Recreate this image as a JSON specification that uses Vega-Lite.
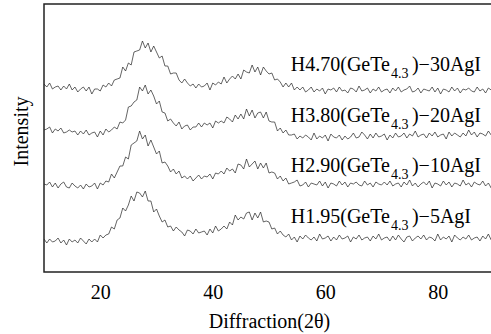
{
  "$schema": "https://vega.github.io/schema/vega-lite/v6.json",
  "width": 450,
  "height": 268,
  "autosize": {"type": "none"},
  "padding": {"left": 44, "top": 4, "right": 0, "bottom": 62},
  "config": {
    "font": "Liberation Serif",
    "view": {"stroke": "#222", "strokeWidth": 1.5},
    "axis": {"grid": false, "domain": false, "labelColor": "#000", "titleColor": "#000", "titleFontWeight": "normal", "labelFontSize": 20, "titleFontSize": 20}
  },
  "datasets": {
    "xrd": [
      {"x":10,"a":188,"b":142,"c":88,"d":33},{"x":10.5,"a":185,"b":143,"c":87,"d":29},{"x":11,"a":189,"b":145,"c":90,"d":33},{"x":11.5,"a":183,"b":139,"c":85,"d":30},
      {"x":12,"a":185,"b":143,"c":89,"d":31},{"x":12.5,"a":186,"b":141,"c":84,"d":34},{"x":13,"a":182,"b":144,"c":88,"d":29},{"x":13.5,"a":186,"b":139,"c":90,"d":32},
      {"x":14,"a":183,"b":140,"c":85,"d":27},{"x":14.5,"a":188,"b":142,"c":84,"d":33},{"x":15,"a":182,"b":140,"c":89,"d":30},{"x":15.5,"a":185,"b":141,"c":86,"d":32},
      {"x":16,"a":180,"b":137,"c":84,"d":29},{"x":16.5,"a":183,"b":141,"c":87,"d":34},{"x":17,"a":185,"b":138,"c":83,"d":31},{"x":17.5,"a":181,"b":142,"c":88,"d":28},
      {"x":18,"a":185,"b":137,"c":85,"d":33},{"x":18.5,"a":178,"b":139,"c":86,"d":30},{"x":19,"a":183,"b":140,"c":89,"d":33},{"x":19.5,"a":183,"b":135,"c":83,"d":30},
      {"x":20,"a":181,"b":141,"c":89,"d":37},{"x":20.5,"a":187,"b":137,"c":87,"d":34},{"x":21,"a":185,"b":143,"c":91,"d":37},{"x":21.5,"a":189,"b":140,"c":90,"d":38},
      {"x":22,"a":186,"b":142,"c":98,"d":45},{"x":22.5,"a":192,"b":145,"c":94,"d":43},{"x":23,"a":193,"b":143,"c":100,"d":52},{"x":23.5,"a":194,"b":150,"c":106,"d":54},
      {"x":24,"a":205,"b":149,"c":106,"d":64},{"x":24.5,"a":201,"b":152,"c":115,"d":61},{"x":25,"a":209,"b":165,"c":113,"d":67},{"x":25.5,"a":207,"b":166,"c":127,"d":76},
      {"x":26,"a":220,"b":170,"c":129,"d":71},{"x":26.5,"a":221,"b":172,"c":131,"d":80},{"x":27,"a":222,"b":185,"c":141,"d":79},{"x":27.5,"a":231,"b":181,"c":133,"d":75},
      {"x":28,"a":224,"b":187,"c":137,"d":81},{"x":28.5,"a":229,"b":178,"c":126,"d":71},{"x":29,"a":220,"b":182,"c":132,"d":71},{"x":29.5,"a":226,"b":176,"c":125,"d":60},
      {"x":30,"a":220,"b":168,"c":118,"d":63},{"x":30.5,"a":214,"b":171,"c":121,"d":56},{"x":31,"a":216,"b":160,"c":109,"d":50},{"x":31.5,"a":206,"b":159,"c":110,"d":52},
      {"x":32,"a":206,"b":151,"c":106,"d":45},{"x":32.5,"a":198,"b":153,"c":100,"d":46},{"x":33,"a":199,"b":149,"c":103,"d":41},{"x":33.5,"a":199,"b":146,"c":98,"d":45},
      {"x":34,"a":192,"b":150,"c":101,"d":42},{"x":34.5,"a":189,"b":143,"c":94,"d":40},{"x":35,"a":193,"b":146,"c":96,"d":36},{"x":35.5,"a":189,"b":147,"c":93,"d":42},
      {"x":36,"a":186,"b":142,"c":96,"d":41},{"x":36.5,"a":188,"b":145,"c":91,"d":38},{"x":37,"a":184,"b":145,"c":94,"d":43},{"x":37.5,"a":188,"b":149,"c":97,"d":39},
      {"x":38,"a":185,"b":145,"c":93,"d":40},{"x":38.5,"a":186,"b":149,"c":96,"d":41},{"x":39,"a":189,"b":147,"c":95,"d":37},{"x":39.5,"a":182,"b":149,"c":98,"d":43},
      {"x":40,"a":189,"b":144,"c":93,"d":39},{"x":40.5,"a":187,"b":151,"c":99,"d":46},{"x":41,"a":190,"b":149,"c":98,"d":41},{"x":41.5,"a":188,"b":151,"c":101,"d":43},
      {"x":42,"a":195,"b":149,"c":98,"d":46},{"x":42.5,"a":189,"b":155,"c":104,"d":43},{"x":43,"a":193,"b":153,"c":101,"d":50},{"x":43.5,"a":196,"b":150,"c":103,"d":47},
      {"x":44,"a":193,"b":157,"c":99,"d":57},{"x":44.5,"a":198,"b":153,"c":108,"d":52},{"x":45,"a":193,"b":158,"c":107,"d":55},{"x":45.5,"a":202,"b":153,"c":103,"d":53},
      {"x":46,"a":200,"b":163,"c":113,"d":59},{"x":46.5,"a":199,"b":156,"c":105,"d":60},{"x":47,"a":207,"b":162,"c":108,"d":52},{"x":47.5,"a":200,"b":154,"c":111,"d":59},
      {"x":48,"a":205,"b":159,"c":103,"d":54},{"x":48.5,"a":197,"b":160,"c":109,"d":60},{"x":49,"a":205,"b":154,"c":104,"d":50},{"x":49.5,"a":201,"b":160,"c":109,"d":51},
      {"x":50,"a":198,"b":151,"c":99,"d":50},{"x":50.5,"a":199,"b":150,"c":100,"d":43},{"x":51,"a":192,"b":150,"c":99,"d":44},{"x":51.5,"a":193,"b":141,"c":93,"d":38},
      {"x":52,"a":190,"b":144,"c":96,"d":41},{"x":52.5,"a":185,"b":139,"c":91,"d":37},{"x":53,"a":189,"b":142,"c":94,"d":35},{"x":53.5,"a":185,"b":137,"c":88,"d":38},
      {"x":54,"a":189,"b":137,"c":89,"d":32},{"x":54.5,"a":182,"b":138,"c":90,"d":35},{"x":55,"a":185,"b":133,"c":92,"d":30},{"x":55.5,"a":182,"b":136,"c":86,"d":36},
      {"x":56,"a":185,"b":134,"c":87,"d":33},{"x":56.5,"a":180,"b":137,"c":90,"d":37},{"x":57,"a":182,"b":135,"c":85,"d":34},{"x":57.5,"a":185,"b":132,"c":89,"d":32},
      {"x":58,"a":180,"b":139,"c":88,"d":35},{"x":58.5,"a":183,"b":133,"c":87,"d":31},{"x":59,"a":181,"b":136,"c":91,"d":38},{"x":59.5,"a":184,"b":134,"c":86,"d":33},
      {"x":60,"a":178,"b":137,"c":90,"d":34},{"x":60.5,"a":183,"b":131,"c":84,"d":36},{"x":61,"a":182,"b":138,"c":89,"d":31},{"x":61.5,"a":184,"b":135,"c":88,"d":35},
      {"x":62,"a":180,"b":134,"c":86,"d":32},{"x":62.5,"a":185,"b":137,"c":91,"d":37},{"x":63,"a":181,"b":132,"c":87,"d":33},{"x":63.5,"a":182,"b":136,"c":90,"d":34},
      {"x":64,"a":179,"b":133,"c":85,"d":36},{"x":64.5,"a":184,"b":135,"c":89,"d":30},{"x":65,"a":183,"b":139,"c":88,"d":35},{"x":65.5,"a":180,"b":134,"c":90,"d":33},
      {"x":66,"a":186,"b":135,"c":87,"d":37},{"x":66.5,"a":181,"b":140,"c":86,"d":32},{"x":67,"a":182,"b":137,"c":91,"d":34},{"x":67.5,"a":184,"b":133,"c":87,"d":35},
      {"x":68,"a":179,"b":138,"c":89,"d":31},{"x":68.5,"a":183,"b":134,"c":85,"d":36},{"x":69,"a":181,"b":139,"c":90,"d":33},{"x":69.5,"a":185,"b":135,"c":88,"d":38},
      {"x":70,"a":180,"b":136,"c":87,"d":32},{"x":70.5,"a":182,"b":138,"c":90,"d":34},{"x":71,"a":183,"b":132,"c":87,"d":35},{"x":71.5,"a":179,"b":137,"c":91,"d":31},
      {"x":72,"a":184,"b":134,"c":86,"d":36},{"x":72.5,"a":181,"b":139,"c":88,"d":32},{"x":73,"a":185,"b":135,"c":89,"d":37},{"x":73.5,"a":180,"b":136,"c":85,"d":33},
      {"x":74,"a":182,"b":139,"c":90,"d":30},{"x":74.5,"a":183,"b":134,"c":87,"d":35},{"x":75,"a":186,"b":138,"c":92,"d":36},{"x":75.5,"a":180,"b":136,"c":86,"d":31},
      {"x":76,"a":181,"b":141,"c":89,"d":34},{"x":76.5,"a":184,"b":135,"c":85,"d":36},{"x":77,"a":179,"b":137,"c":88,"d":33},{"x":77.5,"a":183,"b":138,"c":90,"d":37},
      {"x":78,"a":182,"b":134,"c":87,"d":32},{"x":78.5,"a":181,"b":139,"c":91,"d":35},{"x":79,"a":185,"b":136,"c":84,"d":34},{"x":79.5,"a":180,"b":140,"c":89,"d":31},
      {"x":80,"a":184,"b":135,"c":88,"d":38},{"x":80.5,"a":178,"b":137,"c":86,"d":32},{"x":81,"a":183,"b":138,"c":91,"d":35},{"x":81.5,"a":182,"b":133,"c":87,"d":33},
      {"x":82,"a":180,"b":140,"c":90,"d":36},{"x":82.5,"a":185,"b":136,"c":85,"d":30},{"x":83,"a":181,"b":139,"c":89,"d":37},{"x":83.5,"a":184,"b":137,"c":88,"d":34},
      {"x":84,"a":179,"b":135,"c":86,"d":32},{"x":84.5,"a":183,"b":139,"c":92,"d":35},{"x":85,"a":182,"b":136,"c":87,"d":33},{"x":85.5,"a":184,"b":142,"c":89,"d":37},
      {"x":86,"a":181,"b":137,"c":85,"d":32},{"x":86.5,"a":180,"b":140,"c":90,"d":34},{"x":87,"a":185,"b":135,"c":88,"d":35},{"x":87.5,"a":181,"b":139,"c":87,"d":31},
      {"x":88,"a":183,"b":138,"c":91,"d":36},{"x":88.5,"a":179,"b":136,"c":86,"d":33},{"x":89,"a":184,"b":141,"c":89,"d":38},{"x":89.5,"a":182,"b":137,"c":84,"d":32},
      {"x":90,"a":181,"b":140,"c":90,"d":34}
    ],
    "labels": [
      {"x":71.5,"v":201,"main":"H4.70(GeTe","sub":"4.3","tail":")\u221230AgI"},
      {"x":71.5,"v":150,"main":"H3.80(GeTe","sub":"4.3","tail":")\u221220AgI"},
      {"x":71.5,"v":100,"main":"H2.90(GeTe","sub":"4.3","tail":")\u221210AgI"},
      {"x":71.5,"v":49,"main":"H1.95(GeTe","sub":"4.3","tail":")\u22125AgI"}
    ],
    "major": [{"x":20},{"x":40},{"x":60},{"x":80}],
    "minor": [{"x":30},{"x":50},{"x":70}]
  },
  "encoding": {
    "x": {
      "field": "x", "type": "quantitative",
      "scale": {"domain": [10, 90], "nice": false},
      "axis": {
        "title": "Diffraction(2\u03b8)",
        "values": [20, 40, 60, 80],
        "ticks": false,
        "labelPadding": 10,
        "titlePadding": 9
      }
    },
    "y": {
      "field": "v", "type": "quantitative",
      "scale": {"domain": [0, 268], "nice": false},
      "axis": {"title": "Intensity", "labels": false, "ticks": false, "titlePadding": 13, "titleY": 127}
    }
  },
  "layer": [
    {
      "data": {"name": "xrd"},
      "transform": [{"fold": ["a", "b", "c", "d"], "as": ["s", "v"]}],
      "mark": {"type": "line", "strokeWidth": 0.7, "color": "#222"},
      "encoding": {"detail": {"field": "s"}}
    },
    {
      "data": {"name": "major"},
      "mark": {"type": "rule", "color": "#222", "strokeWidth": 1.5},
      "encoding": {"y": {"datum": 0}, "y2": {"datum": 5}}
    },
    {
      "data": {"name": "minor"},
      "mark": {"type": "rule", "color": "#222", "strokeWidth": 1.5},
      "encoding": {"y": {"datum": 0}, "y2": {"datum": 3}}
    },
    {
      "data": {"name": "labels"},
      "mark": {"type": "text", "align": "right", "baseline": "alphabetic", "fontSize": 20, "color": "#000"},
      "encoding": {"text": {"field": "main"}}
    },
    {
      "data": {"name": "labels"},
      "mark": {"type": "text", "align": "left", "baseline": "alphabetic", "fontSize": 14, "dx": 1, "dy": 7, "color": "#000"},
      "encoding": {"text": {"field": "sub"}}
    },
    {
      "data": {"name": "labels"},
      "mark": {"type": "text", "align": "left", "baseline": "alphabetic", "fontSize": 20, "dx": 22, "color": "#000"},
      "encoding": {"text": {"field": "tail"}}
    }
  ]
}
